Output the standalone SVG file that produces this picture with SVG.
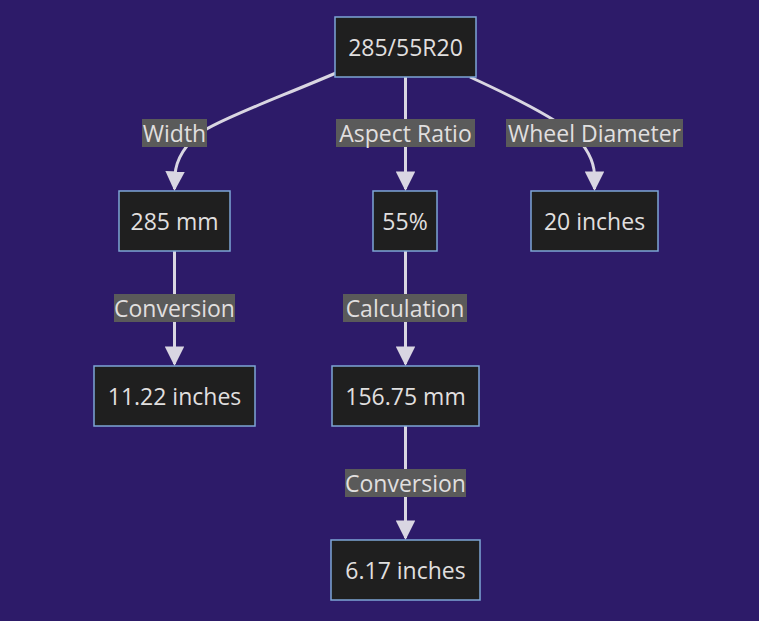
<svg xmlns="http://www.w3.org/2000/svg" width="759" height="621" viewBox="0 0 759 621">
<defs>
<style>
.node rect{fill:#1f1f1f;stroke:#7ea6d6;stroke-width:1.5}
.node text,.lbl text{font-family:"Open Sans","DejaVu Sans",sans-serif;font-size:23px;fill:#e0dfdf;text-anchor:middle;dominant-baseline:central}
.edge{fill:none;stroke:#d9d6e2;stroke-width:3}
.lbl rect{fill:#5a5a5a}
</style>
<marker id="ah" viewBox="0 0 10 10" refX="9" refY="5" markerWidth="6.5" markerHeight="6.5" markerUnits="strokeWidth" orient="auto">
<path d="M0,0 L10,5 L0,10 z" fill="#d9d6e2"/>
</marker>
</defs>
<rect width="759" height="621" fill="#2d1b69"/>
<g id="connectors">
<path class="edge" d="M336,73 C280,97 230,115 205,130 C185,143 176,160 175,175 L174.5,189" marker-end="url(#ah)"/>
<path class="edge" d="M405.5,77 L405.5,189" marker-end="url(#ah)"/>
<path class="edge" d="M470,77 C520,100 555,118 572,133 C588,148 594,162 594.5,175 L594.5,189" marker-end="url(#ah)"/>
<path class="edge" d="M174.5,251 L174.5,364" marker-end="url(#ah)"/>
<path class="edge" d="M405.5,251 L405.5,364" marker-end="url(#ah)"/>
<path class="edge" d="M405.5,426 L405.5,538" marker-end="url(#ah)"/>
<g class="lbl"><rect x="142" y="119" width="65" height="28"/><text x="174.5" y="133">Width</text></g>
<g class="lbl"><rect x="336" y="119" width="139" height="28"/><text x="405.5" y="133">Aspect Ratio</text></g>
<g class="lbl"><rect x="506" y="119" width="177" height="28"/><text x="594.5" y="133">Wheel Diameter</text></g>
<g class="lbl"><rect x="114" y="294" width="121" height="28"/><text x="174.5" y="308">Conversion</text></g>
<g class="lbl"><rect x="343" y="294" width="124" height="28"/><text x="405" y="308">Calculation</text></g>
<g class="lbl"><rect x="345" y="469" width="121" height="28"/><text x="405.5" y="483">Conversion</text></g>
</g>
<g id="n-tire" class="node"><rect x="335" y="17" width="141" height="60"/><text x="405.5" y="47">285/55R20</text></g>
<g id="n-width" class="node"><rect x="119" y="191" width="111" height="60"/><text x="174.5" y="221">285 mm</text></g>
<g id="n-ratio" class="node"><rect x="373" y="191" width="64" height="60"/><text x="405" y="221">55%</text></g>
<g id="n-wheel" class="node"><rect x="531" y="191" width="127" height="60"/><text x="594.5" y="221">20 inches</text></g>
<g id="n-widthin" class="node"><rect x="94" y="366" width="161" height="60"/><text x="174.5" y="396">11.22 inches</text></g>
<g id="n-side" class="node"><rect x="332" y="366" width="147" height="60"/><text x="405.5" y="396">156.75 mm</text></g>
<g id="n-sidein" class="node"><rect x="331" y="540" width="149" height="60"/><text x="405.5" y="570">6.17 inches</text></g>
</svg>
